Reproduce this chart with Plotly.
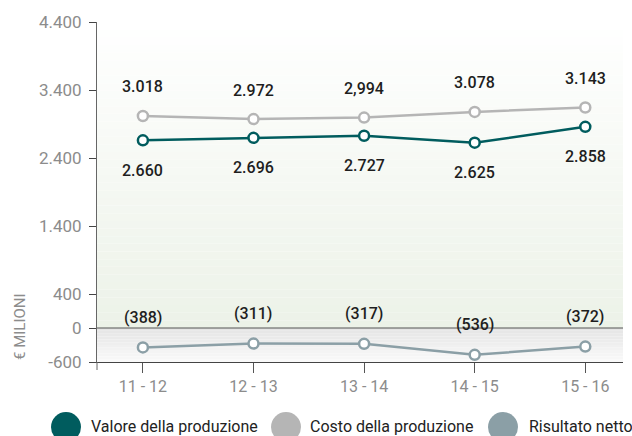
import plotly.graph_objects as go

categories = ["11 - 12", "12 - 13", "13 - 14", "14 - 15", "15 - 16"]
valore = [2660, 2696, 2727, 2625, 2858]
costo = [3018, 2972, 2994, 3078, 3143]
risultato = [-388, -311, -317, -536, -372]
valore_labels = ["2.660", "2.696", "2.727", "2.625", "2.858"]
costo_labels = ["3.018", "2.972", "2,994", "3.078", "3.143"]
risultato_labels = ["(388)", "(311)", "(317)", "(536)", "(372)"]
tick_vals = [4400, 3400, 2400, 1400, 400, -100, -600]
tick_text = ["4.400", "3.400", "2.400", "1.400", "400", "0", "-600"]
series_names = ["Valore della produzione", "Costo della produzione", "Risultato netto"]

C_VAL = "#005c5e"
C_COS = "#b5b5b5"
C_RIS = "#8b9fa6"
FONT = "Roboto"

x = list(range(len(categories)))
fig = go.Figure()


def line(yvals, color, name, yaxis="y"):
    return go.Scatter(
        x=x, y=yvals, mode="lines+markers", name=name, yaxis=yaxis,
        line=dict(color=color, width=2.5),
        marker=dict(size=10, color="white", line=dict(color=color, width=2.5)),
        showlegend=False, hoverinfo="skip",
    )


fig.add_trace(line(costo, C_COS, series_names[1]))
fig.add_trace(line(valore, C_VAL, series_names[0]))
fig.add_trace(line(risultato, C_RIS, series_names[2], yaxis="y2"))

annotations = []
lab_font = dict(family=FONT, size=16, color="#1e1e1e", weight=500)
for i in x:
    annotations.append(dict(x=i, y=costo[i], xref="x", yref="y", text=costo_labels[i],
                            showarrow=False, yshift=29, font=lab_font))
    annotations.append(dict(x=i, y=valore[i], xref="x", yref="y", text=valore_labels[i],
                            showarrow=False, yshift=-30, font=lab_font))
    annotations.append(dict(x=i, y=risultato[i], xref="x", yref="y2", text=risultato_labels[i],
                            showarrow=False, yshift=30, font=lab_font))

W, H = 526.0, 340.0
# y title
annotations.append(dict(xref="paper", yref="paper", x=(20 - 97) / W, y=-(327 - 362) / H, text="€ MILIONI",
                        xanchor="center", yanchor="middle",
                        textangle=-90, showarrow=False, font=dict(family=FONT, size=15, color="#8c8c8c")))

# legend (drawn manually)
legend_items = [(66, 89, C_VAL), (286, 308, C_COS), (503, 527, C_RIS)]
shapes = []
for (cx, tx, col), name in zip(legend_items, series_names):
    cy = 427
    r = 15
    shapes.append(dict(type="circle", xref="paper", yref="paper",
                       x0=(cx - r - 97) / W, x1=(cx + r - 97) / W,
                       y0=-(cy + r - 362) / H, y1=-(cy - r - 362) / H,
                       fillcolor=col, line=dict(width=0), layer="above"))
    annotations.append(dict(xref="paper", yref="paper", x=(tx - 97) / W, y=-(426 - 362) / H,
                            xanchor="left", yanchor="middle", text=name, showarrow=False,
                            font=dict(family=FONT, size=16, color="#222222")))

# background gradients
N = 40
top, bot = 4400.0, -100.0
for k in range(N):
    t = (k + 0.5) / N
    r = int(round(255 + (236 - 255) * t))
    g = int(round(255 + (242 - 255) * t))
    b = int(round(255 + (232 - 255) * t))
    shapes.append(dict(type="rect", xref="paper", yref="y", x0=0, x1=1,
                       y0=top - (top - bot) * k / N, y1=top - (top - bot) * (k + 1) / N,
                       fillcolor=f"rgb({r},{g},{b})", line=dict(width=0), layer="below"))
N2 = 12
top2, bot2 = -100.0, -600.0
for k in range(N2):
    t = (k + 0.5) / N2
    v = int(round(228 + (250 - 228) * t))
    shapes.append(dict(type="rect", xref="paper", yref="y", x0=0, x1=1,
                       y0=top2 - (top2 - bot2) * k / N2, y1=top2 - (top2 - bot2) * (k + 1) / N2,
                       fillcolor=f"rgb({v},{v},{v})", line=dict(width=0), layer="below"))
# zero line
shapes.append(dict(type="line", xref="paper", yref="y", x0=0, x1=1, y0=-100, y1=-100,
                   line=dict(color="#555555", width=1), layer="above"))
# y-axis line extension below x axis
shapes.append(dict(type="line", xref="paper", yref="paper", x0=0, x1=0, y0=0, y1=-8 / H,
                   line=dict(color="#666666", width=1), layer="above"))

fig.update_layout(
    width=632, height=436,
    margin=dict(l=97, r=9, t=22, b=74),
    paper_bgcolor="white", plot_bgcolor="white",
    showlegend=False,
    xaxis=dict(range=[-0.415, 4.341], tickvals=x, ticktext=categories,
               showline=True, linecolor="#444444", linewidth=1,
               ticks="outside", ticklen=10, tickcolor="#555555", tickwidth=1,
               showgrid=False, zeroline=False,
               tickfont=dict(family=FONT, size=16, color="#8c8c8c")),
    yaxis=dict(range=[-600, 4400], tickvals=tick_vals, ticktext=tick_text,
               showline=True, linecolor="#666666", linewidth=1,
               ticks="outside", ticklen=7, tickcolor="#444444",
               ticklabelstandoff=4,
               showgrid=False, zeroline=False,
               tickfont=dict(family=FONT, size=17, color="#8c8c8c")),
    yaxis2=dict(range=[-680, 6120], overlaying="y", visible=False),
    annotations=annotations,
    shapes=shapes,
)

fig.write_html("out.html", config={"displayModeBar": False},
               post_script="document.body.style.margin='0';")
